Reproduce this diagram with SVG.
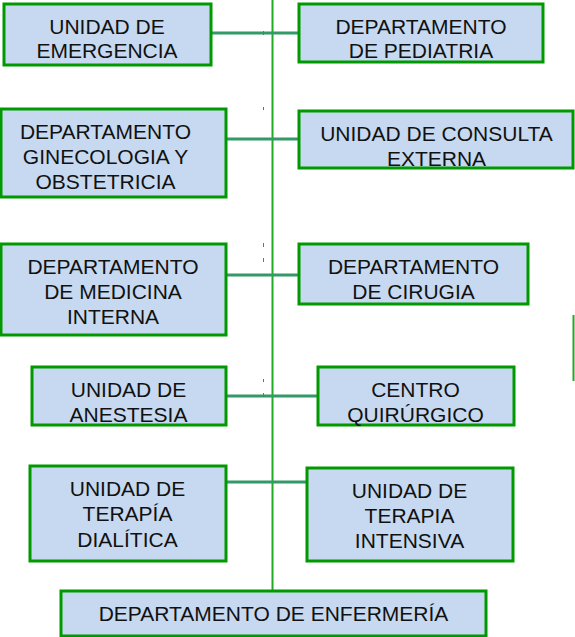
<svg xmlns="http://www.w3.org/2000/svg" width="575" height="637" viewBox="0 0 575 637">
<style>
.box{fill:#c6d9f0;stroke:#009900;stroke-width:3}
.t{font-family:"Liberation Sans",Arial,sans-serif;font-size:21px;fill:#111;text-anchor:middle}
.conn{stroke:#339966;stroke-width:3;fill:none}
.spine{stroke:#22aa22;stroke-width:2;fill:none}
.tick{stroke:#339933;stroke-width:1;fill:none}
</style>
<rect width="575" height="637" fill="#ffffff"/>
<g id="connectors">
<line class="spine" x1="272.5" y1="0" x2="272.5" y2="590"/>
<line class="conn" x1="211" y1="33" x2="299" y2="33"/>
<line class="conn" x1="226" y1="139" x2="299" y2="139"/>
<line class="conn" x1="226" y1="275" x2="299" y2="275"/>
<line class="conn" x1="226" y1="396" x2="272" y2="396" stroke="#7cc49a" stroke-width="2"/>
<line class="conn" x1="272" y1="396" x2="318" y2="396" stroke-width="2"/>
<line class="conn" x1="226" y1="482" x2="307" y2="482"/>
<line class="spine" x1="573.5" y1="315" x2="573.5" y2="381"/>
<line class="tick" x1="263.5" y1="31" x2="263.5" y2="35"/>
<line class="tick" x1="263.5" y1="107" x2="263.5" y2="110"/>
<line class="tick" x1="263.5" y1="243" x2="263.5" y2="247"/>
<line class="tick" x1="263.5" y1="258" x2="263.5" y2="262"/>
<line class="tick" x1="263.5" y1="379" x2="263.5" y2="382"/>
<line class="tick" x1="263.5" y1="393" x2="263.5" y2="397"/>
</g>
<g id="n1"><rect class="box" x="4" y="4" width="207" height="61"/>
<text class="t" x="107" y="34.3">UNIDAD DE</text><text class="t" x="107" y="58.3">EMERGENCIA</text></g>
<g id="n2"><rect class="box" x="299" y="4" width="244" height="58"/>
<text class="t" x="421" y="34.3">DEPARTAMENTO</text><text class="t" x="421" y="58.3">DE PEDIATRIA</text></g>
<g id="n3"><rect class="box" x="1" y="109" width="225" height="88"/>
<text class="t" x="105.5" y="139">DEPARTAMENTO</text><text class="t" x="105.5" y="164">GINECOLOGIA Y</text><text class="t" x="105.5" y="189.3">OBSTETRICIA</text></g>
<g id="n4"><rect class="box" x="299" y="111" width="274" height="57"/>
<text class="t" x="436.5" y="141">UNIDAD DE CONSULTA</text><text class="t" x="436.5" y="165.7">EXTERNA</text></g>
<g id="n5"><rect class="box" x="1" y="244" width="225" height="91"/>
<text class="t" x="113" y="274">DEPARTAMENTO</text><text class="t" x="113" y="299">DE MEDICINA</text><text class="t" x="113" y="324">INTERNA</text></g>
<g id="n6"><rect class="box" x="299" y="244" width="229" height="60"/>
<text class="t" x="413.5" y="274">DEPARTAMENTO</text><text class="t" x="413.5" y="299">DE CIRUGIA</text></g>
<g id="n7"><rect class="box" x="32" y="367" width="194" height="58"/>
<text class="t" x="128.5" y="396.7">UNIDAD DE</text><text class="t" x="128.5" y="421.7">ANESTESIA</text></g>
<g id="n8"><rect class="box" x="318" y="367" width="196" height="58"/>
<text class="t" x="415.5" y="396.7">CENTRO</text><text class="t" x="415.5" y="421.7">QUIRÚRGICO</text></g>
<g id="n9"><rect class="box" x="30" y="466" width="196" height="95"/>
<text class="t" x="127.5" y="495.7">UNIDAD DE</text><text class="t" x="127.5" y="521">TERAPÍA</text><text class="t" x="127.5" y="546.5">DIALÍTICA</text></g>
<g id="n10"><rect class="box" x="307" y="468" width="206" height="93"/>
<text class="t" x="409.5" y="497.7">UNIDAD DE</text><text class="t" x="409.5" y="522.7">TERAPIA</text><text class="t" x="409.5" y="548.3">INTENSIVA</text></g>
<g id="n11"><rect class="box" x="61" y="591" width="425" height="45"/>
<text class="t" x="273.5" y="621">DEPARTAMENTO DE ENFERMERÍA</text></g>
</svg>
